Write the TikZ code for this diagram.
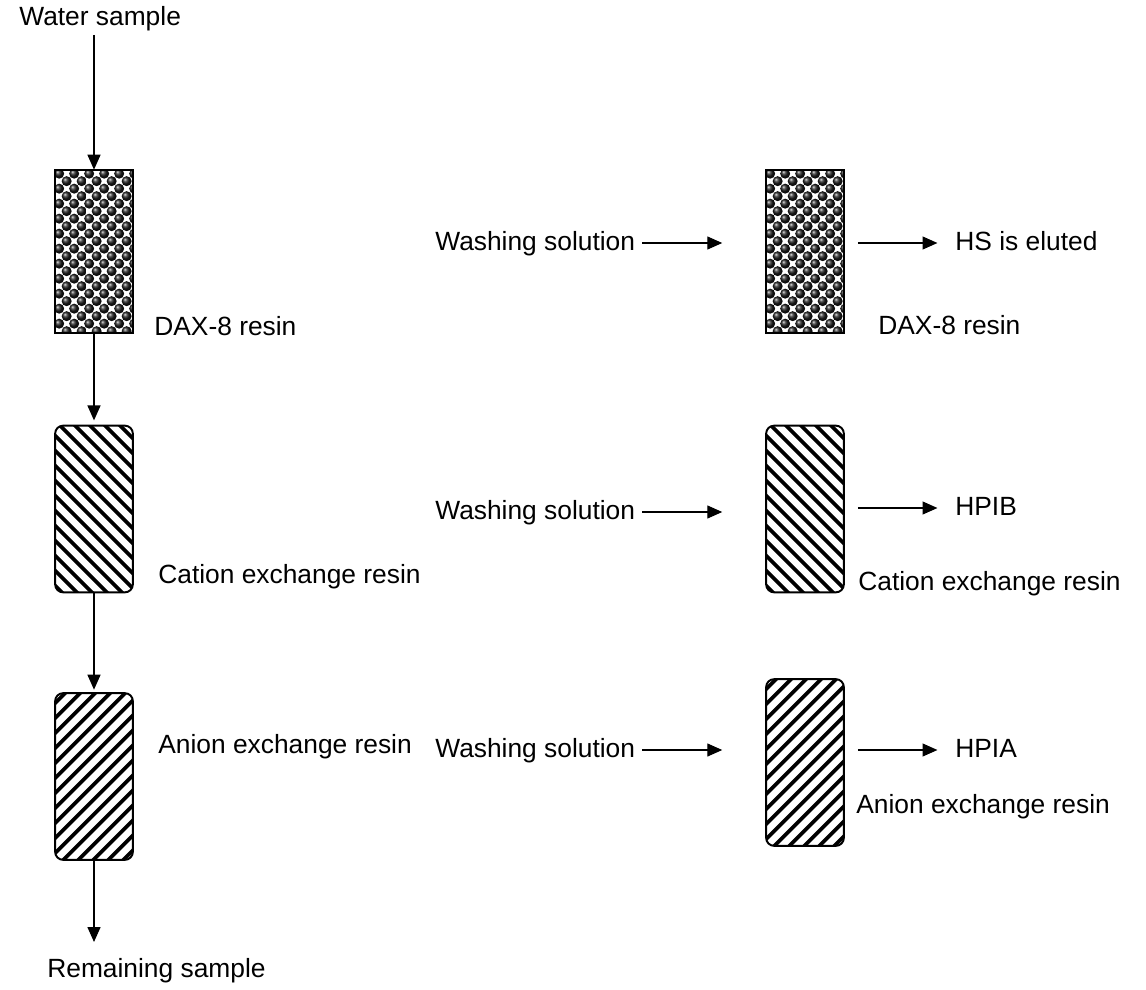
\documentclass[tikz,border=0pt]{standalone}
\usepackage{fontspec}
\setmainfont{Liberation Sans}
\usetikzlibrary{arrows.meta}

\tikzset{
  lbl/.style={anchor=west, inner sep=0pt, text height=11pt, text depth=3pt,
    font=\fontsize{15}{18}\selectfont},
  flow/.style={-{Triangle[length=8.5pt,width=7.4pt]}, line width=0.7pt},
  resin/.style={inner sep=0pt, minimum width=1.54cm},
  daxcol/.style={resin, minimum height=3.26cm},
  ioncol/.style={resin, minimum height=3.32cm},
  border/.style={line width=1.1pt},
  stripe/.style={line width=2.1pt}
}

\begin{document}
\begin{tikzpicture}[x=0.02cm, y=-0.02cm]
\useasboundingbox (0,0) rectangle (1146,990);

% left column
\node[lbl] (water) at (19,18) {Water sample};
\node[daxcol] (daxL) at (94,251.5) {};
\node[ioncol] (catL) at (94,509) {};
\node[ioncol] (anL) at (94,776.5) {};
\node[lbl] (daxLtxt) at (154,328) {DAX-8 resin};
\node[lbl] (catLtxt) at (158,576) {Cation exchange resin};
\node[lbl] (anLtxt) at (158,746) {Anion exchange resin};
\node[lbl] (rest) at (47,970) {Remaining sample};
\coordinate (restarr) at (94,942);

% right column
\node[daxcol] (daxR) at (805,251.5) {};
\node[ioncol] (catR) at (805,509) {};
\node[ioncol] (anR) at (805,762.5) {};
\node[lbl] (daxRtxt) at (878,327) {DAX-8 resin};
\node[lbl] (catRtxt) at (858,583) {Cation exchange resin};
\node[lbl] (anRtxt) at (856,806) {Anion exchange resin};

\node[lbl] (wash1) at (435,243) {Washing solution};
\node[lbl] (wash2) at (435,512) {Washing solution};
\node[lbl] (wash3) at (435,750) {Washing solution};
\node[lbl] (hs) at (955,243) {HS is eluted};
\node[lbl] (hpib) at (955,508) {HPIB};
\node[lbl] (hpia) at (955,750) {HPIA};

% DAX-8 beads
\foreach \n in {daxL,daxR}{
  \begin{scope}
    \clip (\n.north west) rectangle (\n.south east);
    \begin{scope}[shift={(\n.north west)}]
      \foreach \r in {0,...,22}
        \foreach \c in {0,...,5}
          \shade[ball color=black!90] ({\c*15+mod(\r,2)*7.5+4},{\r*7.5+4}) circle (5);
    \end{scope}
  \end{scope}
  \draw[border] (\n.north west) rectangle (\n.south east);
}

% cation stripes
\foreach \n in {catL,catR}{
  \begin{scope}
    \clip[rounded corners=4.5pt] (\n.north west) rectangle (\n.south east);
    \begin{scope}[shift={(\n.north west)}]
      \foreach \k in {-14,...,7}
        \draw[stripe] ({\k*15},-5) -- ++(200,200);
    \end{scope}
  \end{scope}
  \draw[border, rounded corners=4.5pt] (\n.north west) rectangle (\n.south east);
}

% anion stripes
\foreach \n in {anL,anR}{
  \begin{scope}
    \clip[rounded corners=4.5pt] (\n.north west) rectangle (\n.south east);
    \begin{scope}[shift={(\n.north west)}]
      \foreach \k in {-1,...,18}
        \draw[stripe] ({\k*15},-5) -- ++(-200,200);
    \end{scope}
  \end{scope}
  \draw[border, rounded corners=4.5pt] (\n.north west) rectangle (\n.south east);
}

\draw[flow] (daxL.north |- 0,35) -- (daxL.north);
\draw[flow] (daxL.south) -- ([yshift=3pt]catL.north);
\draw[flow] (catL.south) -- ([yshift=2pt]anL.north);
\draw[flow] (anL.south) -- (restarr);

\foreach \w/\c/\o in {wash1/daxR/hs, wash2/catR/hpib, wash3/anR/hpia}{
  \draw[flow, shorten <=4pt, shorten >=25pt] (\w.east) -- (\w.east -| \c.west);
  \draw[flow, shorten <=8pt, shorten >=10pt] (\c.east |- \o.west) -- (\o.west);
}
\end{tikzpicture}
\end{document}
